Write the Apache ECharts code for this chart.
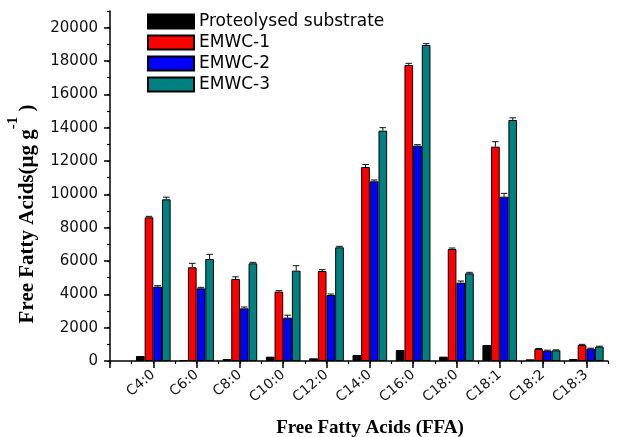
<!DOCTYPE html>
<html>
<head>
<meta charset="utf-8">
<script src="https://cdn.jsdelivr.net/npm/echarts@6/dist/echarts.min.js"></script>
<style>
  html, body { margin: 0; padding: 0; background: #fff; }
  #chart { width: 624px; height: 437px; }
</style>
</head>
<body>
<div id="chart"></div>
<script>
// Fatty acid categories along the x axis
var categories = ['C4:0', 'C6:0', 'C8:0', 'C10:0', 'C12:0', 'C14:0', 'C16:0', 'C18:0', 'C18:1', 'C18:2', 'C18:3'];

// Free fatty acid content (µg/g)
var proteolysed = [300, 60, 120, 260, 160, 360, 660, 260, 960, 100, 120];
var emwc1 = [8620, 5620, 4920, 4160, 5400, 11640, 17760, 6720, 12860, 720, 960];
var emwc2 = [4460, 4360, 3160, 2600, 3960, 10780, 12920, 4700, 9860, 620, 740];
var emwc3 = [9700, 6120, 5860, 5420, 6820, 13820, 18960, 5260, 14460, 640, 860];

// Error bar sizes (µg/g)
var emwc1Err = [60, 240, 130, 60, 80, 150, 100, 60, 300, 30, 40];
var emwc2Err = [60, 60, 80, 150, 60, 80, 60, 100, 200, 30, 30];
var emwc3Err = [130, 280, 60, 300, 60, 180, 80, 60, 130, 30, 30];

var yTicks = [0, 2000, 4000, 6000, 8000, 10000, 12000, 14000, 16000, 18000, 20000];

var seriesNames = ['Proteolysed substrate', 'EMWC-1', 'EMWC-2', 'EMWC-3'];
var seriesColors = ['#000000', '#ff0000', '#0000ff', '#008080'];
var seriesValues = [proteolysed, emwc1, emwc2, emwc3];

function toPoints(values) {
    return values.map(function (v, i) { return [i + 1, v]; });
}

// Build error bar rows: [x, value, error, slot]
var errRows = [];
[[emwc1, emwc1Err, 1], [emwc2, emwc2Err, 2], [emwc3, emwc3Err, 3]].forEach(function (s) {
    s[0].forEach(function (v, i) {
        errRows.push([i + 1, v, s[1][i], s[2]]);
    });
});

function renderErr(params, api) {
    var x = api.value(0), y = api.value(1), e = api.value(2), slot = api.value(3);
    var band = api.size([1, 0])[0];
    var w = band * 0.2;
    var base = api.coord([x, y]);
    var top = api.coord([x, y + e]);
    var cx = base[0] + (slot - 1.5) * w;
    var half = w * 0.38;
    var style = { stroke: '#111', lineWidth: 1 };
    return {
        type: 'group',
        children: [
            { type: 'line', shape: { x1: cx, y1: base[1], x2: cx, y2: top[1] }, style: style },
            { type: 'line', shape: { x1: cx - half, y1: top[1], x2: cx + half, y2: top[1] }, style: style }
        ]
    };
}

var chart = echarts.init(document.getElementById('chart'));

var series = seriesNames.map(function (name, k) {
    return {
        name: name,
        type: 'bar',
        data: toPoints(seriesValues[k]),
        barWidth: '20%',
        barGap: '0%',
        itemStyle: { color: seriesColors[k], borderColor: '#000', borderWidth: 1 },
        animation: false
    };
});
series.push({
    type: 'custom',
    renderItem: renderErr,
    data: errRows,
    encode: { x: 0, y: 1 },
    z: 5,
    silent: true,
    animation: false
});

var tickFont = { fontFamily: 'DejaVu Sans', fontSize: 15, color: '#111' };

var option = {
    backgroundColor: '#fff',
    animation: false,
    grid: { left: 110, top: 11, right: 16, bottom: 76, outerBoundsMode: 'none' },
    legend: {
        data: seriesNames,
        orient: 'vertical',
        icon: 'rect',
        left: 142,
        top: 8,
        itemWidth: 46,
        itemHeight: 14,
        itemGap: 4,
        textStyle: { fontFamily: 'DejaVu Sans', fontSize: 17, color: '#000' }
    },
    xAxis: [{
        type: 'value',
        min: 0,
        max: 11.5,
        interval: 0.5,
        splitLine: { show: false },
        axisLine: { lineStyle: { color: '#000', width: 1.5 } },
        axisTick: { length: 3, lineStyle: { color: '#000', width: 1.2 } },
        axisLabel: {
            customValues: [1, 2, 3, 4, 5, 6, 7, 8, 9, 10, 11],
            formatter: function (v) { return categories[Math.round(v) - 1] || ''; },
            rotate: 40,
            margin: 12,
            fontFamily: tickFont.fontFamily,
            fontSize: 14,
            color: tickFont.color
        },
        name: 'Free Fatty Acids (FFA)',
        nameLocation: 'middle',
        nameGap: 58,
        nameTextStyle: { fontFamily: 'Liberation Serif', fontWeight: 'bold', fontSize: 19, color: '#000', padding: [0, 0, 0, 22] }
    }, {
        type: 'value',
        min: 0,
        max: 11.5,
        interval: 0.5,
        position: 'bottom',
        splitLine: { show: false },
        axisLine: { show: false },
        axisLabel: { show: false },
        axisTick: { customValues: [0, 1, 2, 3, 4, 5, 6, 7, 8, 9, 10, 11], length: 7, lineStyle: { color: '#000', width: 1.5 } }
    }],
    yAxis: [{
        type: 'value',
        min: 0,
        max: 21000,
        interval: 1000,
        splitLine: { show: false },
        axisLine: { show: true, lineStyle: { color: '#000', width: 1.5 } },
        axisTick: { show: true, length: 3, lineStyle: { color: '#000', width: 1.2 } },
        axisLabel: {
            customValues: yTicks,
            formatter: function (v) { return String(v); },
            margin: 12,
            fontFamily: tickFont.fontFamily,
            fontSize: tickFont.fontSize,
            color: tickFont.color
        },
        name: '{a|Free Fatty Acids(μg g}{b|-1}{a| )}',
        nameLocation: 'middle',
        nameGap: 72,
        nameTextStyle: {
            padding: [0, 56, 0, 0],
            rich: {
                a: { fontFamily: 'Liberation Serif', fontWeight: 'bold', fontSize: 21, color: '#000', lineHeight: 32, verticalAlign: 'bottom' },
                b: { fontFamily: 'Liberation Serif', fontWeight: 'bold', fontSize: 15, color: '#000', lineHeight: 32, verticalAlign: 'top' }
            }
        }
    }, {
        type: 'value',
        min: 0,
        max: 21000,
        interval: 1000,
        position: 'left',
        splitLine: { show: false },
        axisLine: { show: false },
        axisLabel: { show: false },
        axisTick: { show: true, customValues: yTicks, length: 6, lineStyle: { color: '#000', width: 1.5 } }
    }],
    series: series
};

chart.setOption(option);
</script>
</body>
</html>
